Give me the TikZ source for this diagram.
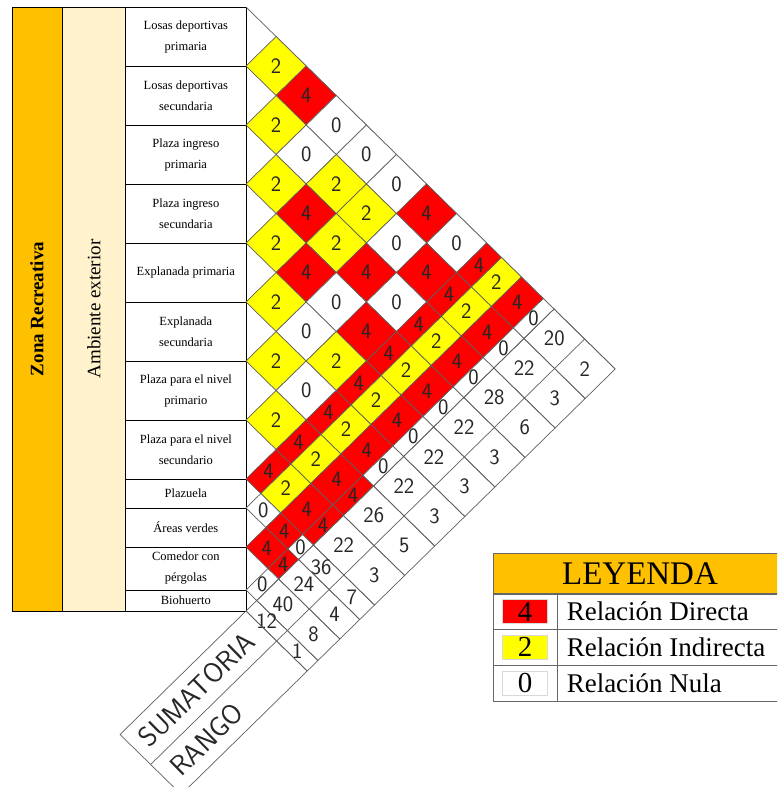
\documentclass[tikz,border=0pt]{standalone}
\usepackage{fontspec}
\setmainfont{Liberation Serif}
\definecolor{zonaorange}{RGB}{255,192,0}
\definecolor{ambcream}{RGB}{255,242,204}
\definecolor{rel4}{RGB}{255,0,0}
\definecolor{rel2}{RGB}{255,255,0}
\definecolor{rel0}{RGB}{255,255,255}
\definecolor{gridgray}{RGB}{95,95,95}
\newcommand{\bnds}{{7,66,125,184,243,302,361,420,479,508,547,590,611,671,731}}
\newcommand{\relations}{1/2/2, 1/3/4, 1/4/0, 1/5/0, 1/6/0, 1/7/4, 1/8/0, 1/9/4, 1/10/2, 1/11/4, 1/12/0,
  2/3/2, 2/4/0, 2/5/2, 2/6/2, 2/7/0, 2/8/4, 2/9/4, 2/10/2, 2/11/4, 2/12/0,
  3/4/2, 3/5/4, 3/6/2, 3/7/4, 3/8/0, 3/9/4, 3/10/2, 3/11/4, 3/12/0,
  4/5/2, 4/6/4, 4/7/0, 4/8/4, 4/9/4, 4/10/2, 4/11/4, 4/12/0,
  5/6/2, 5/7/0, 5/8/2, 5/9/4, 5/10/2, 5/11/4, 5/12/0,
  6/7/2, 6/8/0, 6/9/4, 6/10/2, 6/11/4, 6/12/0,
  7/8/2, 7/9/4, 7/10/2, 7/11/4, 7/12/4,
  8/9/4, 8/10/2, 8/11/4, 8/12/4,
  9/10/0, 9/11/4, 9/12/0,
  10/11/4, 10/12/4,
  11/12/0}

\begin{document}
\begin{tikzpicture}[x=1pt, y=-1pt,
  tabcell/.style={draw, line width=0.9pt, inner sep=0pt, align=center, font=\fontsize{12.5}{21}\selectfont},
  cell/.style={draw=gridgray, line width=0.7pt},
  num/.style={font=\sffamily\fontsize{22}{22}\selectfont, text=black!85, inner sep=0pt},
  striplabel/.style={font=\sffamily\fontsize{28}{28}\selectfont, text=black!85, rotate=44.4, inner sep=0pt},
  legbox/.style={draw=black!60, line width=0.9pt, inner sep=0pt},
  legtext/.style={font=\fontsize{27}{27}\selectfont, anchor=west, inner sep=0pt},
  swatch/.style={draw=black!15, minimum width=45pt, minimum height=24pt, inner sep=0pt, font=\fontsize{29}{29}\selectfont}
]
\useasboundingbox (0,0) rectangle (777,787);
\clip (0,0) rectangle (777,787);

\node[tabcell, fill=zonaorange, minimum width=604pt, minimum height=50pt, rotate=90, font=\bfseries\fontsize{19}{19}\selectfont] (zona) at (37,309) {Zona Recreativa};
\node[tabcell, fill=ambcream, minimum width=604pt, minimum height=63.7pt, rotate=90, font=\fontsize{19}{19}\selectfont] (amb) at (93.85,309) {Ambiente exterior};

\foreach \name [count=\k] in {{Losas deportivas\\primaria}, {Losas deportivas\\secundaria}, {Plaza ingreso\\primaria}, {Plaza ingreso\\secundaria}, {Explanada primaria}, {Explanada\\secundaria}, {Plaza para el nivel\\primario}, {Plaza para el nivel\\secundario}, {Plazuela}, {Áreas verdes}, {Comedor con\\pérgolas}, {Biohuerto}} {
  \pgfmathsetmacro\ytop{\bnds[\k-1]}
  \pgfmathsetmacro\ybot{\bnds[\k]}
  \node[tabcell, minimum width=120.3pt, minimum height={\ybot-\ytop}] (act\k) at (185.85,{(\ytop+\ybot)/2}) {\name};
}

\begin{scope}[shift={(246pt,0pt)}, x={(-0.51pt,-0.5pt)}, y={(0.51pt,-0.5pt)}]
\draw[cell] (7,7) -- (7,731);
\foreach \i/\j/\val in \relations {
  \pgfmathsetmacro\al{\bnds[\i-1]}
  \pgfmathsetmacro\ah{\bnds[\i]}
  \pgfmathsetmacro\bl{\bnds[\j-1]}
  \pgfmathsetmacro\bh{\bnds[\j]}
  \draw[cell, fill=rel\val] (\al,\bl) -- (\al,\bh) -- (\ah,\bh) -- (\ah,\bl) -- cycle;
}
\foreach \i/\s/\r in {1/20/2, 2/22/3, 3/28/6, 4/22/3, 5/22/3, 6/22/3, 7/26/5, 8/22/3, 9/36/7, 10/24/4, 11/40/8, 12/12/1} {
  \pgfmathsetmacro\al{\bnds[\i-1]}
  \pgfmathsetmacro\ah{\bnds[\i]}
  \draw[cell] (\al,611) -- (\al,731) -- (\ah,731) -- (\ah,611) -- cycle;
  \draw[cell] (\al,671) -- (\ah,671);
  \node[num] (sum\i) at ({(\al+\ah)/2},641) {\s};
  \node[num] (rank\i) at ({(\al+\ah)/2},701) {\r};
}
\foreach \i/\j/\val in \relations {
  \pgfmathsetmacro\al{\bnds[\i-1]}
  \pgfmathsetmacro\ah{\bnds[\i]}
  \pgfmathsetmacro\bl{\bnds[\j-1]}
  \pgfmathsetmacro\bh{\bnds[\j]}
  \node[num] (m\i-\j) at ({(\al+\ah)/2},{(\bl+\bh)/2}) {\val};
}
\draw[cell] (611,611) -- (858,611) -- (858,731) -- (611,731) -- cycle;
\draw[cell] (611,671) -- (858,671);
\node[striplabel] (sumlabel) at (738,641) {SUMATORIA};
\node[striplabel] (ranklabel) at (778,701) {RANGO};
\end{scope}

\node[legbox, fill=zonaorange, minimum width=294pt, minimum height=41pt, font=\fontsize{33}{33}\selectfont] (leyenda) at (640,573.5) {LEYENDA};
\foreach \val/\txt/\yc [count=\k] in {4/Relación Directa/611.5, 2/Relación Indirecta/647, 0/Relación Nula/683} {
  \node[legbox, minimum width=64pt, minimum height=36pt] (key\k) at (525,\yc) {};
  \node[swatch, fill=rel\val] (swatch\k) at (key\k) {\val};
  \node[legbox, minimum width=230pt, minimum height=36pt] (desc\k) at (672,\yc) {};
  \node[legtext] (label\k) at ([xshift=10pt]desc\k.west) {\txt};
}
\end{tikzpicture}
\end{document}
